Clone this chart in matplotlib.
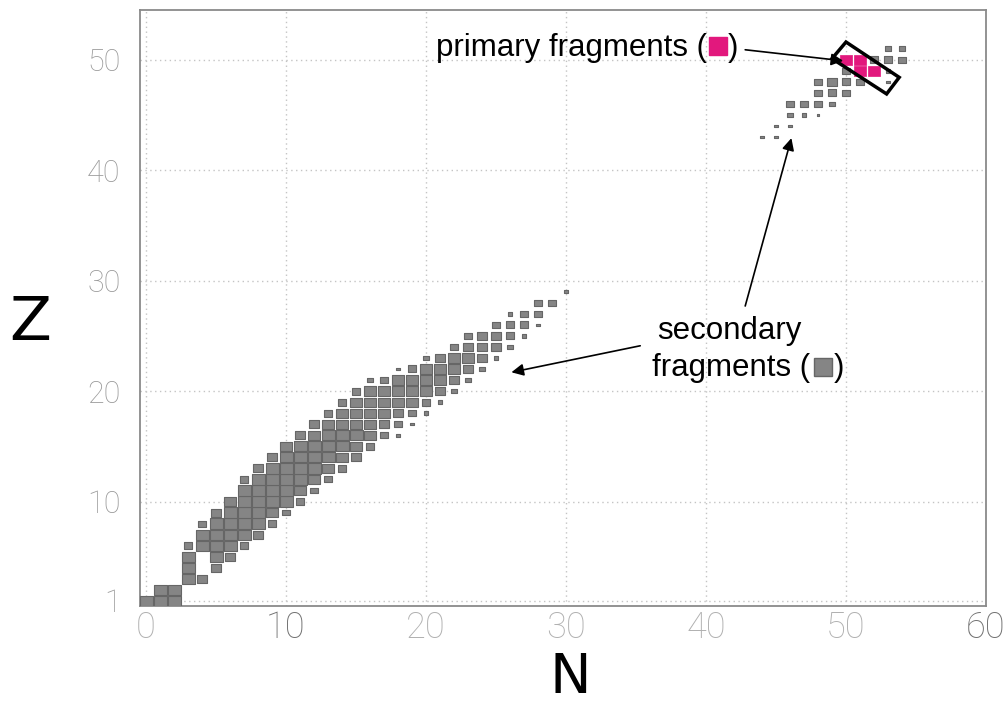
import matplotlib
matplotlib.use("Agg")
import matplotlib.pyplot as plt
import numpy as np
from matplotlib.patches import Rectangle, Polygon
from matplotlib.collections import PatchCollection

# 次级碎片：每个 Z 一行，从 n0 开始逐个 N 的方块大小（0 表示无，9 表示最大）
sec_z = [1, 2, 3, 4, 5, 6, 7, 8, 9, 10, 11, 12, 13, 14, 15, 16, 17, 18, 19, 20,
         21, 22, 23, 24, 25, 26, 27, 28, 29,
         43, 44, 45, 46, 47, 48, 49, 50, 51]
sec_n0 = [0, 1, 3, 3, 3, 3, 4, 4, 5, 6, 7, 7, 8, 9, 10, 11, 12, 13, 14, 15,
          16, 18, 20, 22, 23, 25, 26, 28, 30,
          44, 45, 46, 46, 48, 48, 50, 52, 53]
sec_sizes = ["999", "99", "97", "907", "9097", "69996", "99997", "599996",
             "799985", "899996", "999985", "6999985", "7999986", "7999987",
             "8999986", "78999852", "78888752", "68888753", "68888863",
             "68888874", "46888874", "2688874", "478873", "57774", "57763",
             "5662", "355", "55", "2",
             "22", "22", "431", "5554", "565", "576502", "5003", "665", "44"]

# 初级碎片
pri_n = [50, 51, 51, 52]
pri_z = [50, 50, 49, 49]
pri_size = 0.88

x_ticks = [0, 10, 20, 30, 40, 50, 60]
x_tick_colors = ["#b0b0b0", "#707070", "#b0b0b0", "#b0b0b0", "#b0b0b0", "#b0b0b0", "#707070"]
y_ticks = [1, 10, 20, 30, 40, 50]

gray = "#858585"
gray_edge = "#666666"
magenta = "#e2187d"

fig = plt.figure(figsize=(10.08, 7.06), dpi=100)
ax = fig.add_axes([140 / 1008, 100 / 706, 846 / 1008, 596 / 706])
ax.set_xlim(-0.43, 60)
ax.set_ylim(0.54, 54.5)

# 次级碎片方块
rects = []
for z, n0, row in zip(sec_z, sec_n0, sec_sizes):
    for i, c in enumerate(row):
        if c == "0":
            continue
        s = int(c) / 10 + 0.03
        n = n0 + i
        rects.append(Rectangle((n - s / 2, z - s / 2), s, s))
ax.add_collection(PatchCollection(rects, facecolor=gray, edgecolor=gray_edge,
                                  linewidth=0.8, zorder=3))

# 初级碎片方块
prim = [Rectangle((n - pri_size / 2, z - pri_size / 2), pri_size, pri_size)
        for n, z in zip(pri_n, pri_z)]
ax.add_collection(PatchCollection(prim, facecolor=magenta, edgecolor=magenta,
                                  linewidth=0.5, zorder=4))

# 初级碎片外框（沿对角线倾斜的矩形）
cn, cz = np.mean(pri_n), np.mean(pri_z)
box = np.array([[-1.0, 2.1], [2.8, -1.1], [1.9, -2.6], [-2.0, 0.6]]) + [cn, cz]
ax.add_patch(Polygon(box, closed=True, fill=False, edgecolor="black",
                     linewidth=2.5, zorder=5))

# 网格和坐标轴
ax.set_xticks(x_ticks)
ax.set_yticks(y_ticks)
ax.grid(True, linestyle=(0, (1, 2.5)), color="#c4c4c4", linewidth=1)
ax.tick_params(length=0)
for lab, c in zip(ax.get_xticklabels(), x_tick_colors):
    lab.set_color(c)
    lab.set_fontfamily("Roboto")
    lab.set_fontweight("light")
    lab.set_fontsize(26)
for lab in ax.get_yticklabels():
    lab.set_fontfamily("Roboto")
    lab.set_fontweight("light")
ax.tick_params(axis="x", pad=3)
ax.tick_params(axis="y", pad=14, labelsize=22, labelcolor="#999999")
for sp in ax.spines.values():
    sp.set_color("#8a8a8a")
    sp.set_linewidth(1.3)
ax.set_axisbelow(True)

fig.text(30 / 1008, 1 - 324 / 706, "Z", fontsize=44, ha="center", va="center")
fig.text(570 / 1008, 1 - 678 / 706, "N", fontsize=40, ha="center", va="center")

# 标注文字与箭头
txt = dict(fontsize=22.5, fontfamily="Liberation Sans", va="center", zorder=6)
ax.text(40.07, 51.1, "primary fragments (", ha="right", **txt)
ax.plot([40.86], [51.2], marker="s", ms=12.5, color=magenta, zorder=6)
ax.text(41.55, 51.1, ")", ha="left", **txt)

ax.text(41.7, 25.4, "secondary", ha="center", **txt)
ax.text(47.43, 22.1, "fragments (", ha="right", **txt)
ax.plot([48.36], [22.15], marker="s", ms=12.5, color=gray, mec=gray_edge, zorder=6)
ax.text(49.1, 22.1, ")", ha="left", **txt)

arrow = dict(arrowstyle="-|>", color="black", lw=1.2, mutation_scale=18,
             shrinkA=0, shrinkB=0)
ax.annotate("", xy=(49.8, 49.9), xytext=(42.8, 50.9), arrowprops=arrow, zorder=6)
ax.annotate("", xy=(46.1, 42.9), xytext=(42.8, 27.7), arrowprops=arrow, zorder=6)
ax.annotate("", xy=(26.1, 21.7), xytext=(35.3, 24.1), arrowprops=arrow, zorder=6)

fig.savefig("out.png", dpi=100)
